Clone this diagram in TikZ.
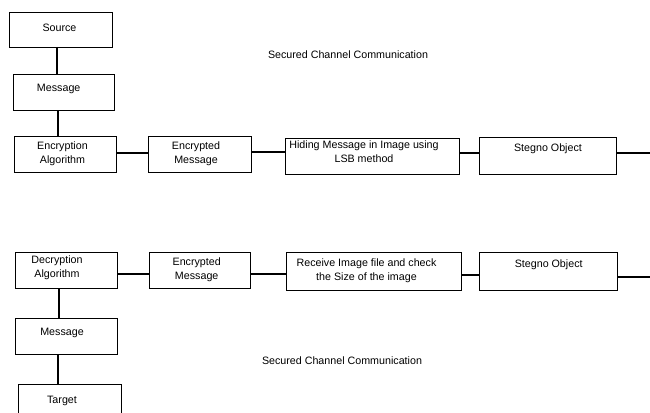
\documentclass[tikz,border=0pt]{standalone}
\usepackage{fontspec}
\setmainfont{Liberation Sans}
\begin{document}
\begin{tikzpicture}[x=1pt,y=-1pt,
  box/.style={draw=black, line width=0.8pt, inner sep=0pt, outer sep=0pt},
  txt/.style={inner sep=0pt, anchor=north, align=center, font=\fontsize{10.7}{13.5}\selectfont},
  conn/.style={line width=2.8pt, line cap=butt}]
\useasboundingbox (0,0) rectangle (650,412);
\clip (0,0) rectangle (650,412);
\newcommand\mybox[5]{\node[box, minimum width={(#4-#2)*1pt}, minimum height={(#5-#3)*1pt}] (#1) at ({(#2+#4)/2},{(#3+#5)/2}) {};}
% top row
\mybox{src}{9}{12}{112}{47}
\mybox{msg}{13}{74}{114}{110}
\mybox{enc}{14}{136}{116}{172}
\mybox{emsg}{148}{136}{251}{172}
\mybox{hide}{285}{138}{459}{174}
\mybox{steg}{479}{137}{616}{174}
% bottom row
\mybox{dec}{15}{252}{117}{288}
\mybox{emsgb}{149}{252}{250}{288}
\mybox{recv}{286}{252}{461}{290}
\mybox{stegb}{479}{252}{617}{290}
\mybox{msgb}{15}{318}{117}{354}
\mybox{tgt}{18}{384}{121}{420}
% texts
\node[txt] (src-t) at (59.5,24) {Source};
\node[txt] (msg-t) at (58.7,84) {Message};
\node[txt] (enc-t) at (62.5,142) {Encryption\\Algorithm};
\node[txt] (emsg-t) at (196,142) {Encrypted\\Message};
\node[txt] (hide-t) at (364,141) {Hiding Message in Image using\\LSB method};
\node[txt] (steg-t) at (548,144) {Stegno Object};
\node[txt] (dec-t) at (57,256) {Decryption\\Algorithm};
\node[txt] (emsgb-t) at (196.7,258) {Encrypted\\Message};
\node[txt] (recv-t) at (366.5,259) {Receive Image file and check\\the Size of the image};
\node[txt] (stegb-t) at (548.7,260) {Stegno Object};
\node[txt] (msgb-t) at (62,328) {Message};
\node[txt] (tgt-t) at (62,396) {Target};
\node[txt] (sc1) at (348,51) {Secured Channel Communication};
\node[txt] (sc2) at (342,357) {Secured Channel Communication};
% free ends
\coordinate (rt) at (652,153);
\coordinate (rb) at (652,277);
% connectors top
\draw[conn] (src.south -| 57,0) -- (msg.north -| 57,0);
\draw[conn] (msg.south -| 58,0) -- (enc.north -| 58,0);
\draw[conn] (enc.east |- 0,153) -- (emsg.west |- 0,153);
\draw[conn] (emsg.east |- 0,152) -- (hide.west |- 0,152);
\draw[conn] (hide.east |- 0,153) -- (steg.west |- 0,153);
\draw[conn] (steg.east |- 0,153) -- (rt);
% connectors bottom
\draw[conn] (dec.east |- 0,274) -- (emsgb.west |- 0,274);
\draw[conn] (emsgb.east |- 0,274) -- (recv.west |- 0,274);
\draw[conn] (recv.east |- 0,275) -- (stegb.west |- 0,275);
\draw[conn] (stegb.east |- 0,277) -- (rb);
\draw[conn] (dec.south -| 59,0) -- (msgb.north -| 59,0);
\draw[conn] (msgb.south -| 58,0) -- (tgt.north -| 58,0);
\end{tikzpicture}
\end{document}
